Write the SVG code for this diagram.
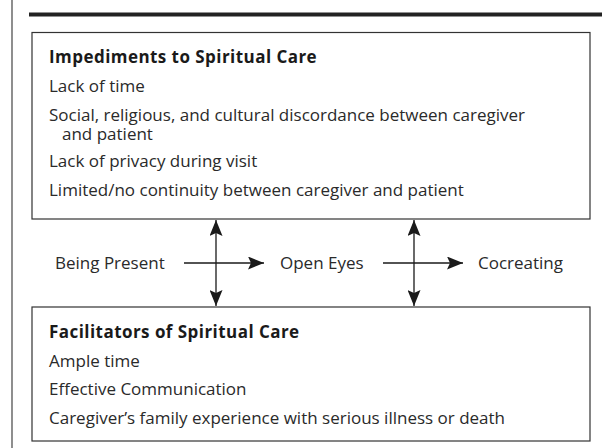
<svg xmlns="http://www.w3.org/2000/svg" width="602" height="448" viewBox="0 0 602 448">
<defs>
<marker id="ah" viewBox="0 0 16 13" refX="16" refY="6.5" markerWidth="16" markerHeight="13" markerUnits="userSpaceOnUse" orient="auto-start-reverse">
<path d="M0,0 L16,6.5 L0,13 L3,6.5 Z" fill="#1a1a1a"/>
</marker>
<style>
.box{fill:#fff;stroke:#333;stroke-width:1.2}
.t{font-family:"Open Sans","Noto Sans",sans-serif;font-size:17px;fill:#2a2a2a}
.b{font-weight:bold;letter-spacing:0.45px;fill:#1a1a1a}
.c{stroke:#1a1a1a;stroke-width:1.3;fill:none}
</style>
</defs>
<rect width="602" height="448" fill="#fff"/>
<line x1="12" y1="0" x2="12" y2="448" stroke="#444" stroke-width="1.2"/>
<line x1="29" y1="14.5" x2="602" y2="14.5" stroke="#222" stroke-width="4"/>
<g id="impediments">
<rect class="box" x="32" y="32.5" width="558" height="186.5"/>
<text class="t b" x="49" y="63">Impediments to Spiritual Care</text>
<text class="t" x="49" y="92">Lack of time</text>
<text class="t" x="49" y="121">Social, religious, and cultural discordance between caregiver</text>
<text class="t" x="62" y="140">and patient</text>
<text class="t" x="49" y="167">Lack of privacy during visit</text>
<text class="t" x="49" y="196">Limited/no continuity between caregiver and patient</text>
</g>
<g id="being-present"><text class="t" x="55" y="269">Being Present</text></g>
<g id="open-eyes"><text class="t" x="280" y="269">Open Eyes</text></g>
<g id="cocreating"><text class="t" x="478" y="269">Cocreating</text></g>
<g id="facilitators">
<rect class="box" x="32" y="307" width="558" height="134"/>
<text class="t b" x="49" y="338">Facilitators of Spiritual Care</text>
<text class="t" x="49" y="367">Ample time</text>
<text class="t" x="49" y="395">Effective Communication</text>
<text class="t" x="49" y="424">Caregiver’s family experience with serious illness or death</text>
</g>
<g id="connectors">
<line class="c" x1="216" y1="220" x2="216" y2="306" marker-start="url(#ah)" marker-end="url(#ah)"/>
<line class="c" x1="414" y1="220" x2="414" y2="306" marker-start="url(#ah)" marker-end="url(#ah)"/>
<line class="c" x1="184" y1="263" x2="264" y2="263" marker-end="url(#ah)"/>
<line class="c" x1="383" y1="263" x2="463" y2="263" marker-end="url(#ah)"/>
</g>
</svg>
